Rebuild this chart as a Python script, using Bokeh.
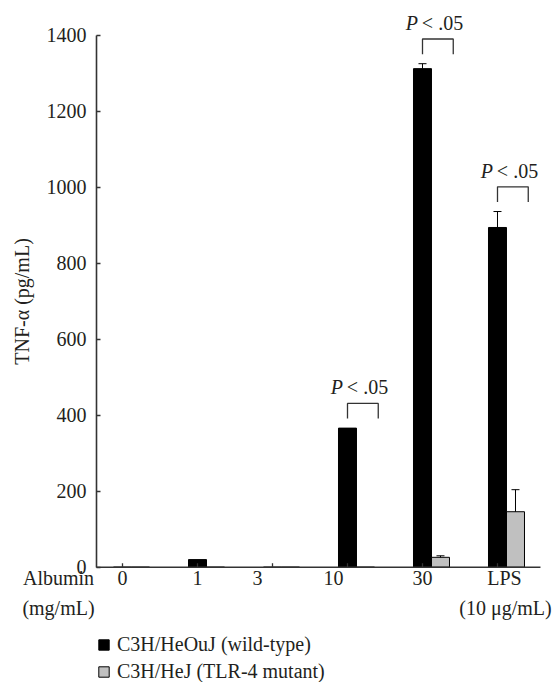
from bokeh.plotting import figure
from bokeh.models import (ColumnDataSource, Range1d, FixedTicker, LabelSet, Label,
                          Whisker, TeeHead, Legend, LegendItem)
from bokeh.embed import file_html
from bokeh.resources import INLINE

# ---- data ----
categories = ["0", "1", "3", "10", "30", "LPS"]
wild_type = [0, 20, 0, 366, 1312, 894]
wild_type_err = [0, 0, 0, 0, 13, 42]
mutant = [0, 0, 0, 0, 26, 146]
mutant_err = [0, 0, 0, 0, 4, 58]
significant = [False, False, False, True, True, True]
y_ticks = [0, 200, 400, 600, 800, 1000, 1200, 1400]

# ---- style / layout ----
FONT = "Liberation Serif"
TXT = "#231f20"
AX = "#333333"
FS = "20px"
BW = 0.24                      # bar width (category units)
label_nudge_px = [0, 0, -15, -14, 0, 7]
X0, X_AXIS, X_AXIS_END, X1 = -1.6267, -0.3467, 5.573, 5.7467
Y0, Y1 = -303.4, 1491.3

idx = list(range(len(categories)))

p = figure(width=553, height=682, output_backend="svg", toolbar_location=None,
           x_range=Range1d(X0, X1), y_range=Range1d(Y0, Y1),
           min_border_left=0, min_border_right=0, min_border_top=0,
           min_border_bottom=0)
p.outline_line_color = None
p.xgrid.visible = False
p.ygrid.visible = False
p.xaxis.visible = False
p.background_fill_color = "white"
p.border_fill_color = "white"

src = ColumnDataSource(dict(
    x_b=idx, x_g=[i + BW for i in idx],
    wt=wild_type, mu=mutant,
))
rb = p.vbar(x="x_b", top="wt", width=BW, source=src, fill_color="black",
            line_color="black", line_width=1)
rg = p.vbar(x="x_g", top="mu", width=BW, source=src, fill_color="#c0c0c0",
            line_color="black", line_width=1)

# x baseline and ticks
p.segment(x0=[X_AXIS], y0=[0], x1=[X_AXIS_END], y1=[0], line_color=AX, line_width=1.6)
p.segment(x0=idx, y0=[0] * len(idx), x1=idx, y1=[10.5] * len(idx),
          line_color=AX, line_width=1.3)

# error bars (upper only)
ex, el, eu = [], [], []
for i in idx:
    if wild_type_err[i] > 0:
        ex.append(i); el.append(wild_type[i]); eu.append(wild_type[i] + wild_type_err[i])
    if mutant_err[i] > 0:
        ex.append(i + BW); el.append(mutant[i]); eu.append(mutant[i] + mutant_err[i])
esrc = ColumnDataSource(dict(base=ex, lower=el, upper=eu))
p.add_layout(Whisker(source=esrc, base="base", lower="lower", upper="upper",
                     line_color="black", line_width=1, level="overlay",
                     upper_head=TeeHead(size=8, line_color="black", line_width=1),
                     lower_head=None))

# significance brackets
bxs, bys, tx, ty = [], [], [], []
for i in idx:
    if significant[i]:
        b = max(wild_type[i] + wild_type_err[i], mutant[i] + mutant_err[i]) + 25
        t = b + 40
        bxs.append([i, i, i + 0.41, i + 0.41])
        bys.append([b, t, t, b])
        tx.append(i + 0.205)
        ty.append(t)
p.multi_line(xs=bxs, ys=bys, line_color=AX, line_width=1.3)
psrc = ColumnDataSource(dict(x=tx, y=ty, p=["P"] * len(tx), r=["< .05"] * len(tx)))
p.add_layout(LabelSet(source=psrc, x="x", y="y", text="p", text_align="right",
                      text_baseline="middle", x_offset=-20, y_offset=16,
                      text_font=FONT, text_font_size=FS, text_font_style="italic",
                      text_color=TXT))
p.add_layout(LabelSet(source=psrc, x="x", y="y", text="r", text_align="left",
                      text_baseline="middle", x_offset=-16, y_offset=16,
                      text_font=FONT, text_font_size=FS, text_color=TXT))

# y axis (library axis, drawn at a fixed data location)
p.yaxis.fixed_location = X_AXIS
p.yaxis.ticker = FixedTicker(ticks=y_ticks)
p.yaxis.bounds = (0, 1400)
p.yaxis.axis_label = "TNF-α (pg/mL)"
p.yaxis.axis_label_text_font = FONT
p.yaxis.axis_label_text_font_size = FS
p.yaxis.axis_label_text_font_style = "normal"
p.yaxis.axis_label_text_color = TXT
p.yaxis.axis_label_standoff = 11
p.yaxis.major_label_text_font = FONT
p.yaxis.major_label_text_font_size = FS
p.yaxis.major_label_text_color = TXT
p.yaxis.major_label_standoff = 10
p.yaxis.major_tick_in = 4
p.yaxis.major_tick_out = 0
p.yaxis.minor_tick_line_color = None
p.yaxis.axis_line_color = AX
p.yaxis.axis_line_width = 1.6
p.yaxis.major_tick_line_color = AX
p.yaxis.major_tick_line_width = 1.3

# category labels
csrc = ColumnDataSource(dict(x=idx, y=[0] * len(idx), t=categories, dx=label_nudge_px))
p.add_layout(LabelSet(source=csrc, x="x", y="y", text="t", x_offset="dx", y_offset=-11,
                      text_align="center", text_baseline="middle",
                      text_font=FONT, text_font_size=FS, text_color=TXT))
for txt, yo in (("Albumin", -11), ("(mg/mL)", -41)):
    p.add_layout(Label(x=X_AXIS, y=0, text=txt, x_offset=-38, y_offset=yo,
                       text_align="center", text_baseline="middle",
                       text_font=FONT, text_font_size=FS, text_color=TXT))
p.add_layout(Label(x=idx[-1], y=0, text="(10 μg/mL)", x_offset=label_nudge_px[-1] + 1,
                   y_offset=-41, text_align="center", text_baseline="middle",
                   text_font=FONT, text_font_size=FS, text_color=TXT))

legend = Legend(items=[LegendItem(label="C3H/HeOuJ (wild-type)", renderers=[rb]),
                       LegendItem(label="C3H/HeJ (TLR-4 mutant)", renderers=[rg])],
                location=(97, -1), orientation="vertical",
                border_line_color=None, background_fill_alpha=0,
                padding=0, margin=0, spacing=4, glyph_width=13, glyph_height=13,
                label_standoff=7, label_height=20,
                label_text_font=FONT, label_text_font_size=FS, label_text_color=TXT)
p.add_layout(legend, "center")

open("out.html", "w").write(file_html(p, INLINE))
